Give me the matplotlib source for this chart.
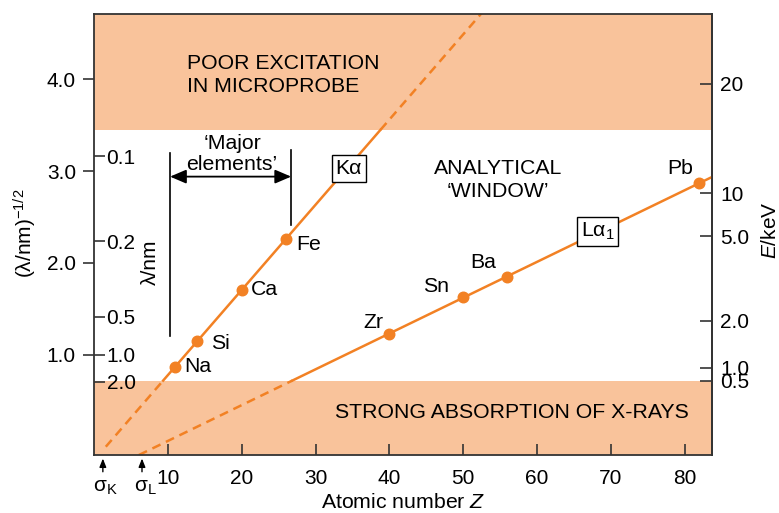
import numpy as np
import matplotlib
matplotlib.use('Agg')
import matplotlib.pyplot as plt
from matplotlib.transforms import blended_transform_factory

plt.rcParams['font.family'] = ['Liberation Sans', 'DejaVu Sans']
plt.rcParams['mathtext.fontset'] = 'custom'
plt.rcParams['mathtext.rm'] = 'Liberation Sans'
plt.rcParams['mathtext.it'] = 'Liberation Sans:italic'
plt.rcParams['mathtext.bf'] = 'Liberation Sans:bold'

# ---------------- data ----------------
ka_elements = ['Na', 'Si', 'Ca', 'Fe']
ka_Z = [11, 14, 20, 26]
ka_v = [0.87, 1.15, 1.71, 2.26]          # (lambda/nm)^-1/2

la_elements = ['Zr', 'Sn', 'Ba', 'Pb']
la_Z = [40, 50, 56, 82]
la_v = [1.23, 1.63, 1.85, 2.87]

sigma_names = ['K', 'L']
sigma_Z = [1.2, 6.5]

absorption_limit = 0.72     # below: strong absorption of X-rays
excitation_limit = 3.45     # above: poor excitation in microprobe
major_range = [10.3, 26.7]  # 'major elements' Z range

x_ticks = [10, 20, 30, 40, 50, 60, 70, 80]
v_ticks = [1.0, 2.0, 3.0, 4.0]
lam_ticks = [0.1, 0.2, 0.5, 1.0, 2.0]
E_tick_labels = ['20', '10', '5.0', '2.0', '1.0', '0.5']
E_tick_at = [3.95, 2.76, 2.29, 1.37, 0.86, 0.72]

# ---------------- style ----------------
BAND = '#F9C39B'
LINE = '#F28124'
SPINE = '#333333'
XLIM = (0, 83.7)
YLIM = (-0.09, 4.71)

fig = plt.figure(figsize=(7.79, 5.13), dpi=100)
ax = fig.add_axes([94/779, 1-455/513, (712-94)/779, (455-14)/513])
ax.set_xlim(*XLIM)
ax.set_ylim(*YLIM)

ax.axhspan(YLIM[0], absorption_limit, color=BAND, lw=0, zorder=0)
ax.axhspan(excitation_limit, YLIM[1], color=BAND, lw=0, zorder=0)

for s in ax.spines.values():
    s.set_color(SPINE)
    s.set_linewidth(1.3)
    s.set_zorder(5)


def draw_series(Zs, vs, v_start, z_end_v=None):
    m, b = np.polyfit(Zs, vs, 1)
    z0 = (v_start - b) / m
    if z_end_v is None:
        z3 = XLIM[1]
    else:
        z3 = (z_end_v - b) / m
    z1 = (absorption_limit - b) / m
    z2 = min((excitation_limit - b) / m, z3)
    dash = dict(color=LINE, lw=1.8, ls=(0, (3.6, 2.4)), zorder=3, clip_on=True)
    ax.plot([z0, z1], [m*z0+b, m*z1+b], **dash)
    ax.plot([z1, z2], [m*z1+b, m*z2+b], color=LINE, lw=1.8, zorder=3)
    if z3 > z2:
        ax.plot([z2, z3], [m*z2+b, m*z3+b], **dash)
    ax.plot(Zs, vs, 'o', color=LINE, ms=7.6, zorder=4)


draw_series(ka_Z, ka_v, 0.0, YLIM[1] + 0.05)
draw_series(la_Z, la_v, YLIM[0])

FS = 15.3
TFS = 15
ka_off = [(9, 0), (14, -2), (9, 0), (10, -5)]
for name, z, v, off in zip(ka_elements, ka_Z, ka_v, ka_off):
    ax.annotate(name, (z, v), xytext=off, textcoords='offset pixels',
                ha='left', va='center', fontsize=FS, zorder=6)
la_off = [(-6, 11), (-14, 10), (-11, 14), (-6, 15)]
for name, z, v, off in zip(la_elements, la_Z, la_v, la_off):
    ax.annotate(name, (z, v), xytext=off, textcoords='offset pixels',
                ha='right', va='center', fontsize=FS, zorder=6)

# region texts
ax.text(12.6, 4.05, 'POOR EXCITATION\nIN MICROPROBE', ha='left', va='center',
        fontsize=FS, linespacing=1.25)
ax.text(54.7, 2.90, 'ANALYTICAL\n\u2018WINDOW\u2019', ha='center', va='center',
        fontsize=FS, linespacing=1.25, multialignment='center')
ax.text(56.6, 0.375, 'STRONG ABSORPTION OF X-RAYS', ha='center', va='center',
        fontsize=FS)
ax.text(18.7, 3.19, '\u2018Major\nelements\u2019', ha='center', va='center',
        fontsize=FS, linespacing=1.15, multialignment='center')

# line labels with boxes
box = dict(boxstyle='square,pad=0.18', fc='white', ec='black', lw=1.0)
ax.text(34.5, 3.03, 'Kα', ha='center', va='center', fontsize=FS, bbox=box, zorder=7)
ax.text(68.2, 2.34, '$\\mathrm{Lα_1}$', ha='center', va='center', fontsize=FS,
        bbox=box, zorder=7)

# major elements bracket
ax.plot([major_range[0]] * 2, [1.20, 3.20], color='black', lw=1.2, zorder=3)
ax.plot([major_range[1]] * 2, [2.415, 3.225], color='black', lw=1.2, zorder=3)
ax.annotate('', xy=(major_range[0], 2.94), xytext=(major_range[1], 2.94),
            arrowprops=dict(arrowstyle='<|-|>,head_length=0.7,head_width=0.3',
                            color='black', lw=1.3, shrinkA=0, shrinkB=0,
                            mutation_scale=14))

# axes ticks
ax.set_xticks(x_ticks)
ax.set_xticklabels([str(t) for t in x_ticks])
ax.tick_params(axis='x', direction='in', length=8, width=1.2, color=SPINE,
               labelsize=TFS, pad=10, top=False)
ax.set_yticks(v_ticks)
ax.set_yticklabels(['%.1f' % t for t in v_ticks])
ax.tick_params(axis='y', direction='out', length=8, width=1.2, color=SPINE,
               labelsize=TFS, pad=5, right=False)

# lambda axis (inside, left)
lam_ax = ax.secondary_yaxis(0.0)
lam_ax.set_alignment('right')
lam_ax.set_yticks(np.array(lam_ticks) ** -0.5)
lam_ax.set_yticklabels(['%.1f' % t for t in lam_ticks])
lam_ax.tick_params(axis='y', direction='out', length=8, width=1.2, color=SPINE,
                   labelsize=TFS, pad=1)
lam_ax.spines['right'].set_visible(False)
ax.text((150 - 94) / 618, (455 - 262) / 441, 'λ/nm', transform=ax.transAxes,
        rotation=90, ha='center', va='center', fontsize=TFS)

# energy axis (right)
e_ax = ax.secondary_yaxis('right')
e_ax.set_yticks(E_tick_at)
e_ax.set_yticklabels(E_tick_labels)
e_ax.tick_params(axis='y', direction='in', length=9, width=1.2, color=SPINE,
                 labelsize=TFS, pad=6)
e_ax.spines['right'].set_color(SPINE)
e_ax.spines['right'].set_linewidth(1.3)

# sigma markers below axis
trans = blended_transform_factory(ax.transData, ax.transAxes)
for name, z in zip(sigma_names, sigma_Z):
    ax.annotate('', xy=(z, -0.008), xycoords=trans, xytext=(z, -0.038),
                textcoords=trans,
                arrowprops=dict(arrowstyle='-|>,head_length=0.5,head_width=0.2',
                                color='black', lw=1.0, shrinkA=0, shrinkB=0,
                                mutation_scale=10), annotation_clip=False)
    ax.text(z + 0.4, -0.073, '$\\mathrm{σ_%s}$' % name, transform=trans,
            ha='center', va='center', fontsize=TFS, clip_on=False)

# axis labels
fig.text(403 / 779, 1 - 502 / 513, 'Atomic number $Z$', ha='center', va='center',
         fontsize=FS)
fig.text(25 / 779, 1 - 233 / 513, '(λ/nm)$^{\\mathrm{-1/2}}$', rotation=90,
         ha='center', va='center', fontsize=TFS)
fig.text(770 / 779, 1 - 230 / 513, '$E$/keV', rotation=90, ha='center', va='center',
         fontsize=TFS)

fig.savefig('out.png', dpi=100)
